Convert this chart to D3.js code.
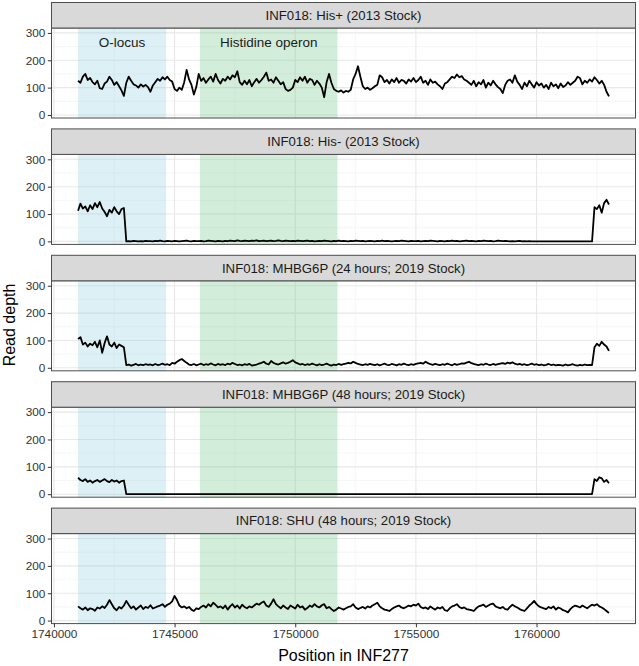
<!DOCTYPE html>
<html><head><meta charset="utf-8">
<script src="https://cdn.jsdelivr.net/npm/d3@7"></script>
<style>body{margin:0;background:#fff}svg{display:block}text{font-family:"Liberation Sans",Arial,Helvetica,sans-serif}</style>
</head><body><svg id="c" width="639" height="666"></svg>
<script>
const panelTitles = [
  "INF018: His+ (2013 Stock)",
  "INF018: His- (2013 Stock)",
  "INF018: MHBG6P (24 hours; 2019 Stock)",
  "INF018: MHBG6P (48 hours; 2019 Stock)",
  "INF018: SHU (48 hours; 2019 Stock)"
];
const posStart = 1741000, posStep = 100;

const depthHisPlus = [
125,118,140,150,128,135,120,112,125,98,
95,115,122,140,128,110,120,105,90,70,
118,140,125,112,108,100,112,104,110,102,
85,108,120,132,125,138,130,140,128,122,
95,88,100,92,120,165,130,110,75,102,
150,125,135,118,130,140,122,150,128,115,
132,125,140,130,145,138,160,120,110,125,
112,128,105,120,132,118,128,140,155,125,
130,118,138,125,112,120,95,88,92,100,
128,120,138,125,140,118,132,128,110,125,
115,100,65,120,150,118,95,88,85,90,
82,88,85,92,130,150,178,140,105,95,
100,92,98,105,110,145,138,120,128,115,
130,120,135,118,128,125,115,130,122,135,
120,128,140,118,125,110,130,118,122,112,
105,95,115,120,130,140,135,148,138,142,
130,125,118,110,125,105,120,112,128,100,
118,108,125,112,102,95,80,110,125,130,
118,145,122,110,95,118,105,125,112,100,
120,108,115,100,110,95,118,105,112,98,
115,102,108,120,110,118,125,140,135,112,
125,118,130,122,138,128,115,125,110,85,
68];

const depthHisMinus = [
112,138,120,128,110,132,118,140,125,144,
120,108,92,115,105,125,110,100,118,122,
0,1,0,2,1,0,1,0,2,1,
1,0,2,1,3,1,0,2,1,0,
2,1,0,1,2,3,1,0,2,1,
1,2,0,1,3,2,1,0,2,1,
0,2,1,3,2,1,4,2,1,3,
2,1,3,2,4,1,2,3,1,2,
3,1,2,4,2,1,3,2,1,2,
1,3,2,1,2,3,1,2,0,1,
2,1,3,2,1,0,2,1,3,1,
2,1,0,2,1,3,2,1,2,0,
1,2,1,0,2,1,3,1,2,1,
0,1,2,1,3,2,1,0,2,1,
1,2,0,1,2,1,3,2,1,0,
2,1,0,2,1,3,1,2,0,1,
2,3,1,2,1,0,2,1,3,2,
1,2,0,1,3,2,1,2,1,0,
1,0,1,2,0,1,0,1,0,0,
0,0,0,0,0,0,0,0,0,0,
0,0,0,0,0,0,0,0,0,0,
0,0,0,0,125,118,132,105,140,152,
135];

const depthMHBG24 = [
105,112,85,92,78,88,82,95,75,100,
55,90,115,85,78,92,72,85,80,75,
10,12,8,11,14,9,12,10,13,11,
12,9,14,10,12,15,11,13,10,18,
15,22,28,32,25,18,12,10,14,9,
12,15,10,13,11,16,12,9,14,11,
13,10,15,12,18,14,10,12,9,13,
11,14,8,10,12,15,18,22,15,12,
25,18,14,12,16,20,15,18,22,28,
20,16,12,14,10,13,11,15,12,9,
13,10,12,15,11,8,12,10,14,11,
13,15,18,16,22,18,14,12,10,13,
11,14,12,10,13,9,12,15,11,10,
14,12,9,13,11,15,12,10,13,11,
14,16,18,15,22,17,13,11,14,12,
10,13,11,15,12,9,14,11,13,16,
15,19,22,17,14,12,10,13,11,15,
12,10,14,11,13,15,17,14,19,16,
20,15,12,14,11,13,10,12,15,11,
13,10,12,9,11,14,10,12,9,11,
10,8,12,9,11,13,10,8,11,9,
12,10,11,10,75,88,80,95,85,78,
62];

const depthMHBG48 = [
60,52,48,55,45,50,42,48,52,45,
50,55,48,44,52,46,50,42,48,50,
0,0,0,0,0,0,0,0,0,0,
0,0,0,0,0,0,0,0,0,0,
0,0,0,0,0,0,0,0,0,0,
0,0,0,0,0,0,0,0,0,0,
0,0,0,0,0,0,0,0,0,0,
0,0,0,0,0,0,0,0,0,0,
0,0,0,0,0,0,0,0,0,0,
0,0,0,0,0,0,0,0,0,0,
0,0,0,0,0,0,0,0,0,0,
0,0,0,0,0,0,0,0,0,0,
0,0,0,0,0,0,0,0,0,0,
0,0,0,0,0,0,0,0,0,0,
0,0,0,0,0,0,0,0,0,0,
0,0,0,0,0,0,0,0,0,0,
0,0,0,0,0,0,0,0,0,0,
0,0,0,0,0,0,0,0,0,0,
0,0,0,0,0,0,0,0,0,0,
0,0,0,0,0,0,0,0,0,0,
0,0,0,0,0,0,0,0,0,0,
0,0,0,0,55,48,62,58,45,52,
40];

const depthSHU = [
52,45,40,48,38,45,42,36,48,44,
52,46,58,75,60,45,38,50,44,55,
72,58,45,52,40,48,55,42,50,46,
56,44,48,52,55,60,50,58,62,70,
90,75,55,48,52,45,50,40,35,45,
42,50,55,48,60,52,65,58,48,52,
45,55,40,52,60,48,55,44,58,50,
45,52,48,55,62,58,65,70,55,50,
62,78,60,52,45,55,48,42,55,50,
44,58,48,52,40,46,55,50,60,52,
48,56,60,45,50,42,35,40,48,44,
40,45,50,52,60,48,42,46,50,44,
52,48,55,60,65,52,45,40,38,35,
42,48,52,55,48,45,50,55,52,58,
55,62,50,45,48,42,52,45,40,48,
44,50,38,35,45,52,55,60,50,45,
48,42,40,38,35,45,52,55,58,50,
55,60,62,52,48,45,50,42,40,50,
58,52,48,42,38,35,45,55,62,72,
60,52,48,45,42,50,45,52,40,48,
44,38,35,30,42,50,55,52,48,55,
50,45,52,58,55,60,52,48,42,35,
28];

const panelSeries = [depthHisPlus, depthHisMinus, depthMHBG24, depthMHBG48, depthSHU];

const yTicks = [0, 100, 200, 300];
const yMinorTicks = [50, 150, 250];
const xTicks = [1740000, 1745000, 1750000, 1755000, 1760000];
const xMinorTicks = [1742500, 1747500, 1752500, 1757500, 1762500];

const regionLabels = ["O-locus", "Histidine operon"];
const regionStarts = [1741000, 1746050];
const regionEnds = [1744650, 1751750];
const regionFills = ["#8ecdde", "#6cc387"];

const svg = d3.select("#c");
const X0 = 51.5, X1 = 635.5;
const stripH = 25.5, plotH = 90, step = 126.4, top0 = 2.5;
const x = d3.scaleLinear().domain([1739900, 1764100]).range([X0, X1]);
const font = '"Liberation Sans",Arial,Helvetica,sans-serif';

panelSeries.forEach((vals, k) => {
  const sTop = top0 + k * step;
  const pTop = sTop + stripH;
  const pBot = pTop + plotH;
  const y = d3.scaleLinear().domain([-11, 318]).range([pBot, pTop]);
  const g = svg.append("g");

  g.append("rect").attr("x", X0).attr("y", pTop).attr("width", X1 - X0).attr("height", plotH).attr("fill", "#fff");

  g.selectAll(".ymin").data(yMinorTicks).join("line")
    .attr("x1", X0).attr("x2", X1).attr("y1", d => y(d)).attr("y2", d => y(d))
    .attr("stroke", "#f0f0f0").attr("stroke-width", 0.6);
  g.selectAll(".xmin").data(xMinorTicks).join("line")
    .attr("y1", pTop).attr("y2", pBot).attr("x1", d => x(d)).attr("x2", d => x(d))
    .attr("stroke", "#f0f0f0").attr("stroke-width", 0.6);
  g.selectAll(".ymaj").data(yTicks).join("line")
    .attr("x1", X0).attr("x2", X1).attr("y1", d => y(d)).attr("y2", d => y(d))
    .attr("stroke", "#e8e8e8").attr("stroke-width", 1.1);
  g.selectAll(".xmaj").data(xTicks).join("line")
    .attr("y1", pTop).attr("y2", pBot).attr("x1", d => x(d)).attr("x2", d => x(d))
    .attr("stroke", "#e8e8e8").attr("stroke-width", 1.1);

  regionStarts.forEach((s, r) => {
    g.append("rect").attr("x", x(s)).attr("y", pTop)
      .attr("width", x(regionEnds[r]) - x(s)).attr("height", plotH)
      .attr("fill", regionFills[r]).attr("fill-opacity", 0.3);
    if (k === 0) {
      g.append("text").attr("x", (x(s) + x(regionEnds[r])) / 2).attr("y", pTop + 18.5)
        .attr("text-anchor", "middle").attr("font-size", "13.5px").attr("fill", "#1a1a1a")
        .attr("font-family", font).text(regionLabels[r]);
    }
  });

  const line = d3.line().x((d, i) => x(posStart + i * posStep)).y(d => y(d));
  g.append("path").datum(vals).attr("d", line).attr("fill", "none")
    .attr("stroke", "#000").attr("stroke-width", 1.8).attr("stroke-linejoin", "round");

  g.append("rect").attr("x", X0).attr("y", pTop).attr("width", X1 - X0).attr("height", plotH)
    .attr("fill", "none").attr("stroke", "#4d4d4d").attr("stroke-width", 1);

  g.append("rect").attr("x", X0).attr("y", sTop).attr("width", X1 - X0).attr("height", stripH)
    .attr("fill", "#d9d9d9").attr("stroke", "#4d4d4d").attr("stroke-width", 1);
  g.append("text").attr("x", (X0 + X1) / 2).attr("y", sTop + stripH / 2 + 4.6)
    .attr("text-anchor", "middle").attr("font-size", "13.2px").attr("fill", "#1a1a1a")
    .attr("font-family", font).text(panelTitles[k]);

  const ya = d3.axisLeft(y).tickValues(yTicks).tickSize(3.7).tickPadding(2.5);
  const yg = g.append("g").attr("transform", `translate(${X0},0)`).call(ya);
  yg.select(".domain").remove();
  yg.selectAll("line").attr("stroke", "#333");
  yg.selectAll("text").attr("font-size", "11.8px").attr("fill", "#333").attr("font-family", font);

  if (k === panelSeries.length - 1) {
    const xa = d3.axisBottom(x).tickValues(xTicks).tickFormat(d3.format("d")).tickSize(3.7).tickPadding(2.5);
    const xg = g.append("g").attr("transform", `translate(0,${pBot})`).call(xa);
    xg.select(".domain").remove();
    xg.selectAll("line").attr("stroke", "#333");
    xg.selectAll("text").attr("font-size", "11.8px").attr("fill", "#333").attr("font-family", font);
  }
});

svg.append("text").attr("x", (X0 + X1) / 2).attr("y", 661).attr("text-anchor", "middle")
  .attr("font-size", "16px").attr("fill", "#000").attr("font-family", font).text("Position in INF277");
svg.append("text").attr("transform", "translate(15,325) rotate(-90)").attr("text-anchor", "middle")
  .attr("font-size", "16px").attr("fill", "#000").attr("font-family", font).text("Read depth");
</script></body></html>
